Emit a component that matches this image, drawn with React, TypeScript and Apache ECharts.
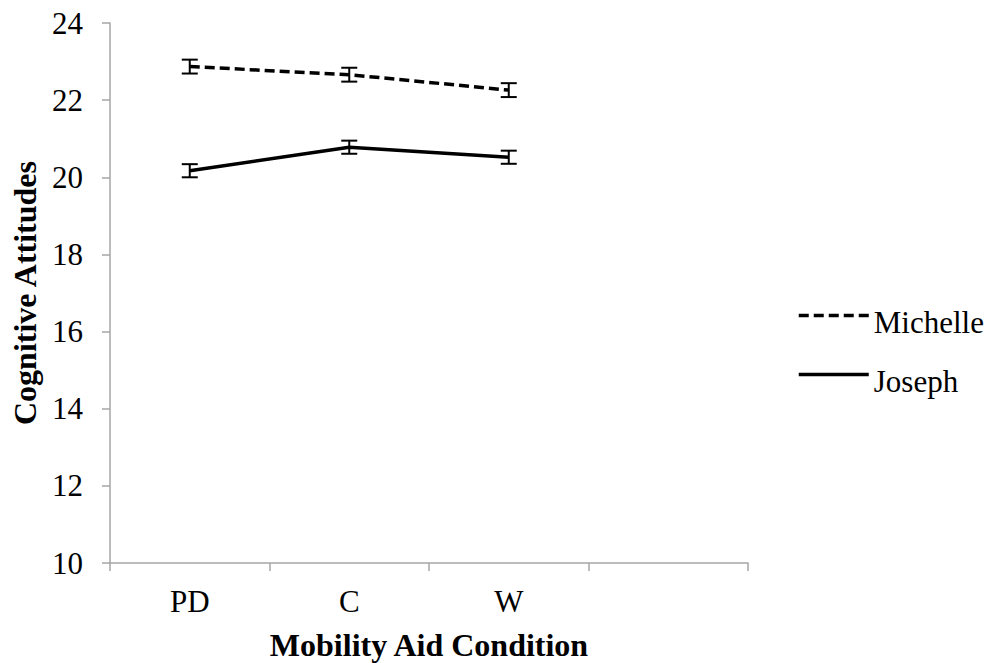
import React, { useEffect, useRef } from "react";
import * as echarts from "echarts";

const categories = ["PD", "C", "W", ""];
const yTicks = [10, 12, 14, 16, 18, 20, 22, 24];
const michelleMeans = [22.87, 22.66, 22.26];
const michelleErr = [0.18, 0.18, 0.18];
const josephMeans = [20.17, 20.78, 20.52];
const josephErr = [0.17, 0.17, 0.17];

const FONT = "Liberation Serif";

function errorData(means: number[], errs: number[]) {
  return means.map((m, i) => [i, m - errs[i], m + errs[i]]);
}

function errorSeries(name: string, means: number[], errs: number[]) {
  return {
    type: "custom",
    name: name + " err",
    silent: true,
    z: 5,
    data: errorData(means, errs),
    encode: { x: 0, y: [1, 2] },
    renderItem: (params: any, api: any) => {
      const x = api.value(0);
      const lo = api.coord([x, api.value(1)]);
      const hi = api.coord([x, api.value(2)]);
      const w = 8;
      const style = { stroke: "#000", lineWidth: 2 };
      return {
        type: "group",
        children: [
          { type: "line", shape: { x1: lo[0], y1: lo[1], x2: hi[0], y2: hi[1] }, style },
          { type: "line", shape: { x1: lo[0] - w, y1: lo[1], x2: lo[0] + w, y2: lo[1] }, style },
          { type: "line", shape: { x1: hi[0] - w, y1: hi[1], x2: hi[0] + w, y2: hi[1] }, style },
        ],
      };
    },
  };
}

export default function App() {
  const ref = useRef<HTMLDivElement>(null);
  useEffect(() => {
    if (!ref.current) return;
    const chart = echarts.init(ref.current, undefined, { renderer: "svg" });
    chart.setOption({
      animation: false,
      backgroundColor: "#fff",
      textStyle: { fontFamily: FONT, color: "#000" },
      grid: { left: 110, right: 241, top: 23, bottom: 100, containLabel: false, outerBoundsMode: "none" },
      legend: {
        orient: "vertical",
        left: 797,
        top: 307,
        padding: 0,
        itemWidth: 70,
        itemHeight: 14,
        itemGap: 28,
        itemStyle: { opacity: 0 },
        lineStyle: { width: 3.5 },
        data: ["Michelle", "Joseph"],
        formatter: (name: string) => `{t|${name}}`,
        textStyle: {
          fontFamily: FONT,
          fontSize: 31,
          color: "#000",
          rich: { t: { fontFamily: FONT, fontSize: 31, color: "#000", padding: [14, 0, 0, 0] } },
        },
      },
      xAxis: {
        type: "category",
        data: categories,
        boundaryGap: true,
        name: "Mobility Aid Condition",
        nameLocation: "middle",
        nameGap: 66,
        nameTextStyle: { fontFamily: FONT, fontSize: 32, fontWeight: "bold", color: "#000" },
        axisLine: { lineStyle: { color: "#a6a6a6", width: 1.5 } },
        axisTick: { show: true, length: 8, lineStyle: { color: "#a6a6a6", width: 1.5 }, alignWithLabel: false },
        axisLabel: { fontFamily: FONT, fontSize: 31, color: "#000", margin: 23 },
        splitLine: { show: false },
      },
      yAxis: {
        type: "value",
        min: 10,
        max: 24,
        interval: 2,
        name: "Cognitive Attitudes",
        nameLocation: "middle",
        nameGap: 67,
        nameRotate: 90,
        nameTextStyle: { fontFamily: FONT, fontSize: 32, fontWeight: "bold", color: "#000" },
        axisLine: { show: true, lineStyle: { color: "#a6a6a6", width: 1.5 } },
        axisTick: { show: true, length: 8, lineStyle: { color: "#a6a6a6", width: 1.5 } },
        axisLabel: {
          fontFamily: FONT,
          fontSize: 31,
          color: "#000",
          margin: 27,
          formatter: (v: number) => (yTicks.includes(v) ? String(v) : ""),
        },
        splitLine: { show: false },
      },
      series: [
        {
          type: "line",
          name: "Michelle",
          data: michelleMeans,
          symbol: "none",
          lineStyle: { color: "#000", width: 3.5, type: [10, 5] },
          itemStyle: { color: "#000" },
          z: 3,
        },
        {
          type: "line",
          name: "Joseph",
          data: josephMeans,
          symbol: "none",
          lineStyle: { color: "#000", width: 3.5, type: "solid" },
          itemStyle: { color: "#000" },
          z: 3,
        },
        errorSeries("Michelle", michelleMeans, michelleErr),
        errorSeries("Joseph", josephMeans, josephErr),
      ],
    });
    return () => chart.dispose();
  }, []);
  return <div ref={ref} style={{ width: 989, height: 663, position: "absolute", left: 0, top: 0 }} />;
}
